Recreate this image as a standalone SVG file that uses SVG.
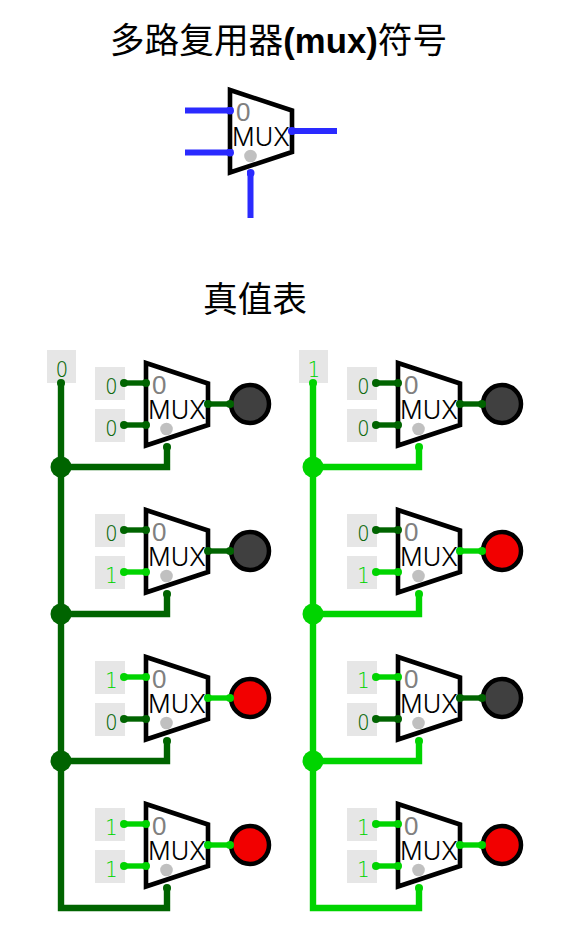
<svg xmlns="http://www.w3.org/2000/svg" width="579" height="948" viewBox="0 0 579 948">
<style>
.title{font-family:"Liberation Sans","Noto Sans CJK SC",sans-serif;font-size:34.7px;fill:#000;text-anchor:middle}
.title tspan{font-weight:700}
.body{fill:#fff;stroke:#000;stroke-width:4.6}
.mt{font-family:Inter,"Liberation Sans",sans-serif;font-weight:300;font-size:25.2px;fill:#000}
.zt{font-family:"Liberation Sans",sans-serif;font-size:26px;fill:#808080}
.sel{fill:#c0c0c0}
.box{fill:#e6e6e6}
.dg{font-family:"DejaVu Sans",sans-serif;font-weight:200;font-size:21.5px;text-anchor:middle;stroke-width:.12;transform-box:fill-box;transform-origin:center;transform:scaleX(.9)}
.d0{fill:#006400;stroke:#006400}.d1{fill:#00d400;stroke:#00d400}
.w{fill:none;stroke-linejoin:miter}
.wd,.wb{stroke-width:5.4}
.wd{stroke:#006400;marker-start:url(#dd);marker-end:url(#dd)}
.wb{stroke:#00d400;marker-start:url(#db);marker-end:url(#db)}
.wu{stroke:#2a2aff;stroke-width:6;marker-start:url(#du);marker-end:url(#du)}
.bd{stroke:#006400;stroke-width:6.4}
.bb{stroke:#00d400;stroke-width:6.4}
.led{stroke:#000;stroke-width:4.5}
.off{fill:#404040}.on{fill:#f20000}
.jd{fill:#006400}.jb{fill:#00d400}
</style>
<defs>
<marker id="dd" markerUnits="userSpaceOnUse" markerWidth="8" markerHeight="8" refX="4" refY="4"><circle cx="4" cy="4" r="4" fill="#006400"/></marker>
<marker id="db" markerUnits="userSpaceOnUse" markerWidth="8" markerHeight="8" refX="4" refY="4"><circle cx="4" cy="4" r="4" fill="#00d400"/></marker>
<marker id="du" markerUnits="userSpaceOnUse" markerWidth="8" markerHeight="8" refX="4" refY="4"><circle cx="4" cy="4" r="4" fill="#2a2aff"/></marker>
<g id="mux">
<polygon class="body" points="1,1 63,21.5 63,63 1,83.5"/>
<text class="zt" x="7" y="32">0</text>
<text class="mt" x="3" y="57">MUX</text>
<circle class="sel" cx="21.5" cy="67" r="6.3"/>
</g>
</defs>
<g id="title-1"><text class="title" x="278.5" y="53">多路复用器<tspan>(mux)</tspan>符号</text></g>
<g id="title-2"><text class="title" x="255" y="312">真值表</text></g>

<g id="mux-top"><use href="#mux" x="229" y="89"/></g>

<g id="sel-l"><rect class="box" x="47" y="350" width="29" height="33"/><text class="dg d0" x="62" y="377">0</text></g>
<g id="sel-r"><rect class="box" x="299" y="350" width="29" height="33"/><text class="dg d1" x="314" y="377">1</text></g>

<g id="l1"><rect class="box" x="95" y="367" width="30" height="33"/><text class="dg d0" x="111.5" y="394">0</text><rect class="box" x="95" y="409" width="30" height="33"/><text class="dg d0" x="111.5" y="436">0</text><use href="#mux" x="145" y="362"/><circle class="led off" cx="250" cy="404" r="19"/></g>
<g id="l2"><rect class="box" x="95" y="514" width="30" height="33"/><text class="dg d0" x="111.5" y="541">0</text><rect class="box" x="95" y="556" width="30" height="33"/><text class="dg d1" x="111.5" y="583">1</text><use href="#mux" x="145" y="509"/><circle class="led off" cx="250" cy="551" r="19"/></g>
<g id="l3"><rect class="box" x="95" y="661" width="30" height="33"/><text class="dg d1" x="111.5" y="688">1</text><rect class="box" x="95" y="703" width="30" height="33"/><text class="dg d0" x="111.5" y="730">0</text><use href="#mux" x="145" y="656"/><circle class="led on" cx="250" cy="698" r="19"/></g>
<g id="l4"><rect class="box" x="95" y="808" width="30" height="33"/><text class="dg d1" x="111.5" y="835">1</text><rect class="box" x="95" y="850" width="30" height="33"/><text class="dg d1" x="111.5" y="877">1</text><use href="#mux" x="145" y="803"/><circle class="led on" cx="250" cy="845" r="19"/></g>

<g id="r1"><rect class="box" x="347" y="367" width="30" height="33"/><text class="dg d0" x="363.5" y="394">0</text><rect class="box" x="347" y="409" width="30" height="33"/><text class="dg d0" x="363.5" y="436">0</text><use href="#mux" x="397" y="362"/><circle class="led off" cx="502" cy="404" r="19"/></g>
<g id="r2"><rect class="box" x="347" y="514" width="30" height="33"/><text class="dg d0" x="363.5" y="541">0</text><rect class="box" x="347" y="556" width="30" height="33"/><text class="dg d1" x="363.5" y="583">1</text><use href="#mux" x="397" y="509"/><circle class="led on" cx="502" cy="551" r="19"/></g>
<g id="r3"><rect class="box" x="347" y="661" width="30" height="33"/><text class="dg d1" x="363.5" y="688">1</text><rect class="box" x="347" y="703" width="30" height="33"/><text class="dg d0" x="363.5" y="730">0</text><use href="#mux" x="397" y="656"/><circle class="led off" cx="502" cy="698" r="19"/></g>
<g id="r4"><rect class="box" x="347" y="808" width="30" height="33"/><text class="dg d1" x="363.5" y="835">1</text><rect class="box" x="347" y="850" width="30" height="33"/><text class="dg d1" x="363.5" y="877">1</text><use href="#mux" x="397" y="803"/><circle class="led on" cx="502" cy="845" r="19"/></g>

<g id="connectors">
<path class="w wu" d="M185 110.5H230" style="marker-start:none"/>
<path class="w wu" d="M185 152.5H230" style="marker-start:none"/>
<path class="w wu" d="M292 131H337" style="marker-end:none"/>
<path class="w wu" d="M250.5 218V173" style="marker-start:none"/>

<path class="w bd" d="M61 383V908H167V888"/>
<path class="w bb" d="M313 383V908H419V888"/>
<circle class="jd" cx="61" cy="383" r="4"/><circle class="jb" cx="313" cy="383" r="4"/>
<circle class="jd" cx="167" cy="888" r="4"/><circle class="jb" cx="419" cy="888" r="4"/>
<path class="w bd" d="M61 467H167V447"/><path class="w bd" d="M61 614H167V594"/><path class="w bd" d="M61 761H167V741"/>
<path class="w bb" d="M313 467H419V447"/><path class="w bb" d="M313 614H419V594"/><path class="w bb" d="M313 761H419V741"/>
<circle class="jd" cx="61" cy="467" r="10.5"/><circle class="jd" cx="61" cy="614" r="10.5"/><circle class="jd" cx="61" cy="761" r="10.5"/>
<circle class="jb" cx="313" cy="467" r="10.5"/><circle class="jb" cx="313" cy="614" r="10.5"/><circle class="jb" cx="313" cy="761" r="10.5"/>
<circle class="jd" cx="167" cy="447" r="4"/><circle class="jd" cx="167" cy="594" r="4"/><circle class="jd" cx="167" cy="741" r="4"/>
<circle class="jb" cx="419" cy="447" r="4"/><circle class="jb" cx="419" cy="594" r="4"/><circle class="jb" cx="419" cy="741" r="4"/>

<path class="w wd" d="M124 383H146"/><path class="w wd" d="M124 425H146"/><path class="w wd" d="M208 404H230"/>
<path class="w wd" d="M124 530H146"/><path class="w wb" d="M124 572H146"/><path class="w wd" d="M208 551H230"/>
<path class="w wb" d="M124 677H146"/><path class="w wd" d="M124 719H146"/><path class="w wb" d="M208 698H230"/>
<path class="w wb" d="M124 824H146"/><path class="w wb" d="M124 866H146"/><path class="w wb" d="M208 845H230"/>

<path class="w wd" d="M376 383H398"/><path class="w wd" d="M376 425H398"/><path class="w wd" d="M460 404H482"/>
<path class="w wd" d="M376 530H398"/><path class="w wb" d="M376 572H398"/><path class="w wb" d="M460 551H482"/>
<path class="w wb" d="M376 677H398"/><path class="w wd" d="M376 719H398"/><path class="w wd" d="M460 698H482"/>
<path class="w wb" d="M376 824H398"/><path class="w wb" d="M376 866H398"/><path class="w wb" d="M460 845H482"/>
</g>
</svg>
